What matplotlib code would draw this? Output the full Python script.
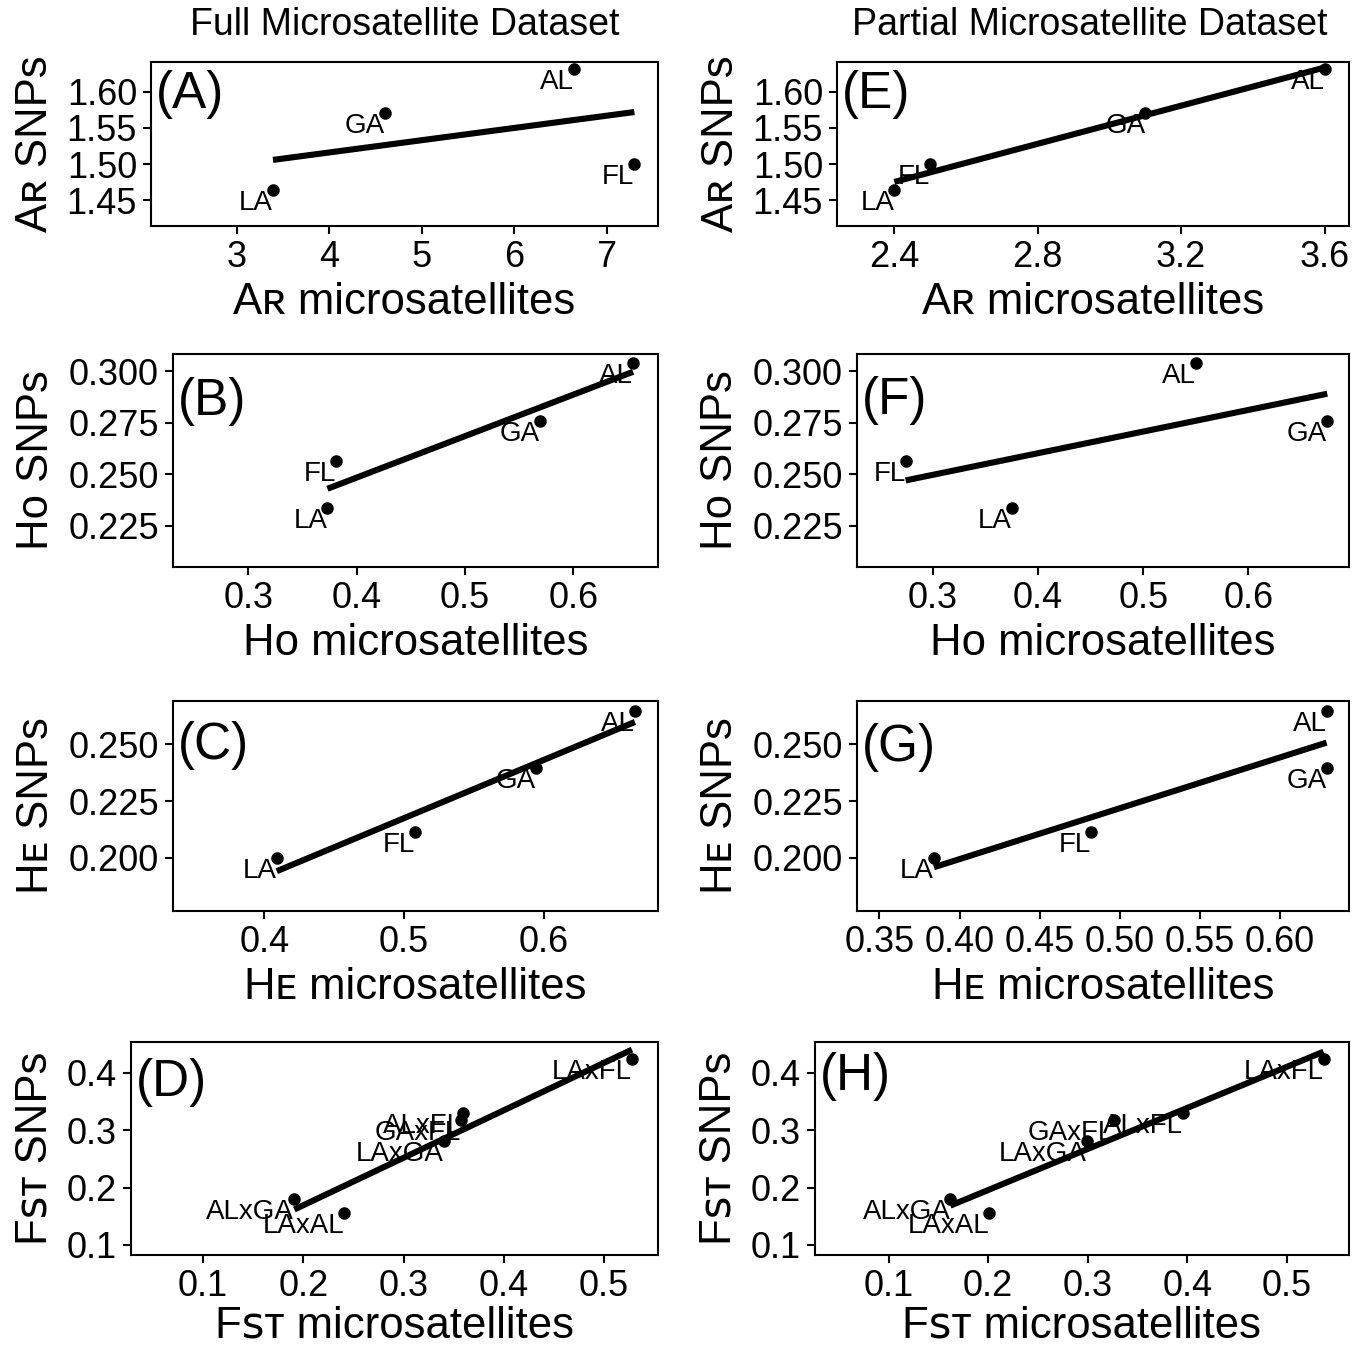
import numpy as np
import matplotlib
matplotlib.use("Agg")
import matplotlib.pyplot as plt

plt.rcParams['font.family'] = ['Liberation Sans', 'DejaVu Sans']

# population level data (SNPs shared by both columns)
pops = ['LA', 'FL', 'GA', 'AL']
ar_snp = [1.464, 1.500, 1.570, 1.631]
ar_full = [3.39, 7.30, 4.60, 6.65]
ar_part = [2.40, 2.50, 3.10, 3.60]

ho_snp = [0.2333, 0.2564, 0.2760, 0.3040]
ho_full = [0.373, 0.381, 0.569, 0.655]
ho_part = [0.375, 0.274, 0.675, 0.550]

he_snp = [0.1998, 0.2112, 0.2395, 0.2645]
he_full = [0.409, 0.508, 0.594, 0.665]
he_part = [0.384, 0.482, 0.629, 0.629]

# pairwise Fst
pairs = ['ALxGA', 'LAxAL', 'LAxGA', 'GAxFL', 'ALxFL', 'LAxFL']
fst_snp = [0.180, 0.155, 0.282, 0.318, 0.331, 0.425]
fst_full = [0.191, 0.241, 0.340, 0.357, 0.359, 0.528]
fst_part = [0.162, 0.201, 0.299, 0.326, 0.396, 0.537]

W, H = 1363, 1347


def box(l, t, r, b):
    return [l / W, 1 - b / H, (r - l) / W, (b - t) / H]


def panel(rect, x, y, labels, letter, letter_y, xlab, ylab,
          xlim, ylim, xticks, yticks, xfmt, yfmt, xpad=5):
    ax = fig.add_axes(box(*rect))
    x = np.array(x)
    y = np.array(y)
    # linear fit over the data range
    m, c = np.polyfit(x, y, 1)
    xs = np.array([x.min(), x.max()])
    ax.plot(xs, m * xs + c, color='black', lw=4.4, solid_capstyle='butt', zorder=2)
    ax.plot(x, y, 'o', color='black', ms=8, zorder=3)
    for xi, yi, lab in zip(x, y, labels):
        ax.text(xi, yi, lab, ha='right', va='top', fontsize=20, zorder=4)
    ax.text(0.01, letter_y, letter, transform=ax.transAxes, ha='left',
            va='center', fontsize=37)
    ax.set_xlim(*xlim)
    ax.set_ylim(*ylim)
    ax.set_xticks(xticks)
    ax.set_yticks(yticks)
    ax.set_xticklabels([xfmt % v for v in xticks])
    ax.set_yticklabels([yfmt % v for v in yticks])
    ax.tick_params(labelsize=26, length=6, width=1.5, color='black',
                   labelcolor='black', pad=4)
    for s in ax.spines.values():
        s.set_linewidth(1.5)
    ax.set_xlabel(xlab, fontsize=31.5, labelpad=xpad)
    ax.set_ylabel(ylab, fontsize=31.5, labelpad=8)
    return ax


fig = plt.figure(figsize=(W / 100, H / 100), dpi=100)

fst_t = [0.1, 0.2, 0.3, 0.4, 0.5]
fst_yt = [0.1, 0.2, 0.3, 0.4]

panel((151, 62, 658, 226), ar_full, ar_snp, pops, '(A)', 0.80,
      'A\u0280 microsatellites', 'A\u0280 SNPs',
      (2.07, 7.556), (1.4146, 1.641), [3, 4, 5, 6, 7],
      [1.45, 1.50, 1.55, 1.60], '%d', '%.2f')
panel((837, 62, 1349, 226), ar_part, ar_snp, pops, '(E)', 0.80,
      'A\u0280 microsatellites', 'A\u0280 SNPs',
      (2.24, 3.668), (1.4146, 1.641), [2.4, 2.8, 3.2, 3.6],
      [1.45, 1.50, 1.55, 1.60], '%.1f', '%.2f')

panel((173, 354, 658, 567), ho_full, ho_snp, pops, '(B)', 0.775,
      'H\u1d0f microsatellites', 'H\u1d0f SNPs',
      (0.2305, 0.678), (0.2048, 0.3085), [0.3, 0.4, 0.5, 0.6],
      [0.225, 0.25, 0.275, 0.3], '%.1f', '%.3f')
panel((857, 354, 1349, 567), ho_part, ho_snp, pops, '(F)', 0.784,
      'H\u1d0f microsatellites', 'H\u1d0f SNPs',
      (0.2277, 0.6957), (0.2048, 0.3085), [0.3, 0.4, 0.5, 0.6],
      [0.225, 0.25, 0.275, 0.3], '%.1f', '%.3f')

panel((173, 701, 658, 911), he_full, he_snp, pops, '(C)', 0.786,
      'H\u1d07 microsatellites', 'H\u1d07 SNPs',
      (0.3348, 0.6815), (0.1766, 0.269), [0.4, 0.5, 0.6],
      [0.2, 0.225, 0.25], '%.1f', '%.3f')
panel((857, 701, 1349, 911), he_part, he_snp, pops, '(G)', 0.78,
      'H\u1d07 microsatellites', 'H\u1d07 SNPs',
      (0.336, 0.643), (0.1766, 0.269), [0.35, 0.40, 0.45, 0.50, 0.55, 0.60],
      [0.2, 0.225, 0.25], '%.2f', '%.3f')

panel((131, 1042, 658, 1255), fst_full, fst_snp, pairs, '(D)', 0.81,
      'F\ua731\u1d1b microsatellites', 'F\ua731\u1d1b SNPs',
      (0.028, 0.554), (0.0825, 0.454), fst_t, fst_yt, '%.1f', '%.1f', xpad=1)
panel((815, 1042, 1349, 1255), fst_part, fst_snp, pairs, '(H)', 0.836,
      'F\ua731\u1d1b microsatellites', 'F\ua731\u1d1b SNPs',
      (0.026, 0.5626), (0.0825, 0.454), fst_t, fst_yt, '%.1f', '%.1f', xpad=1)

fig.text(405 / W, 1 - 25 / H, 'Full Microsatellite Dataset', ha='center',
         va='center', fontsize=27)
fig.text(1090 / W, 1 - 25 / H, 'Partial Microsatellite Dataset', ha='center',
         va='center', fontsize=27)

fig.savefig('out.png', dpi=100, facecolor='white')
